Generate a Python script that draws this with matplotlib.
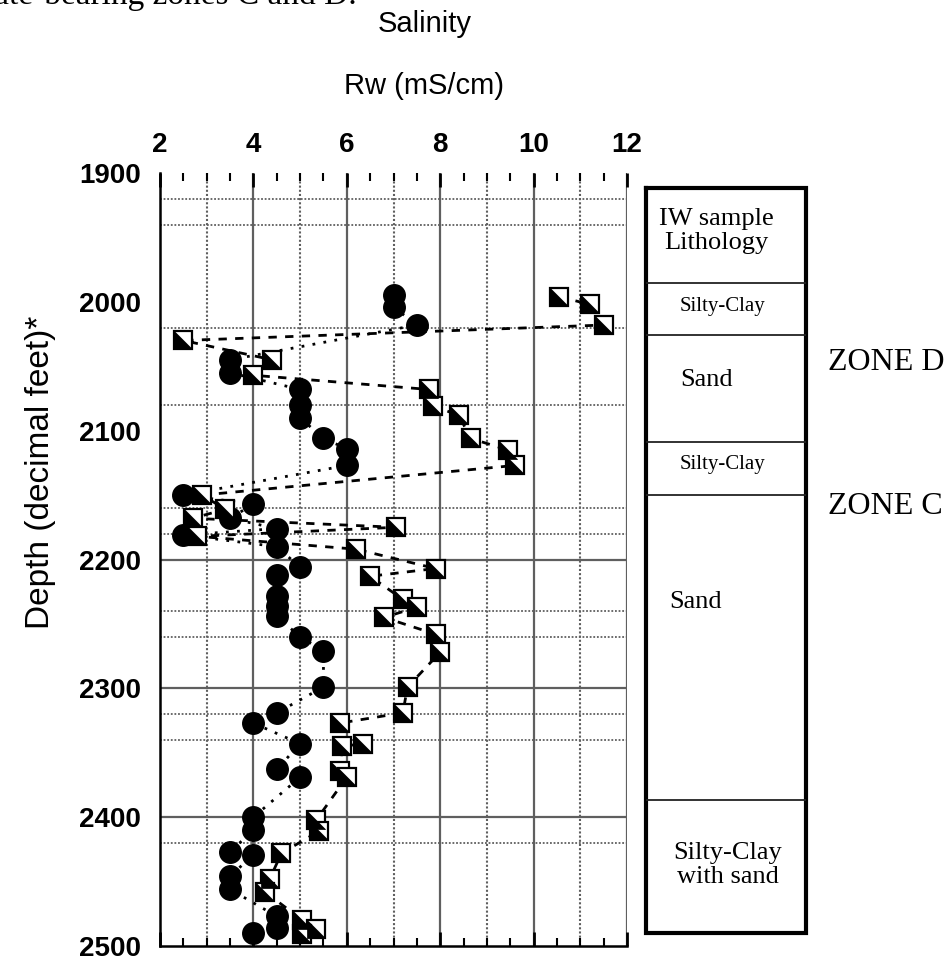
import matplotlib.pyplot as plt
from matplotlib.ticker import MultipleLocator

# circles: salinity Rw (mS/cm) vs depth (decimal feet)
circle_rw = [7.0, 7.0, 7.5, 3.5, 3.5, 5.0, 5.0, 5.0, 5.5, 6.0, 6.0,
             2.5, 4.0, 3.5, 4.5, 2.5, 4.5, 5.0, 4.5, 4.5, 4.5, 4.5,
             5.0, 5.5, 5.5, 4.5, 4.0, 5.0, 4.5, 5.0, 4.0, 4.0, 3.5,
             4.0, 3.5, 3.5, 4.5, 4.5, 4.0]
circle_depth = [1995, 2004, 2018, 2045, 2055, 2068, 2080, 2090, 2106, 2114, 2127,
                2150, 2157, 2168, 2176, 2181, 2190, 2206, 2212, 2228, 2236, 2244,
                2260, 2271, 2299, 2319, 2327, 2343, 2363, 2369, 2400, 2410, 2427,
                2429, 2446, 2456, 2477, 2486, 2490]

# half-filled squares
square_rw = [10.55, 11.2, 11.5, 2.5, 4.4, 4.0, 7.75, 7.85, 8.4, 8.65, 9.45, 9.6,
             2.9, 3.4, 2.7, 7.05, 2.8, 6.2, 7.9, 6.5, 7.2, 7.5, 6.8, 7.9, 8.0,
             7.3, 7.2, 5.85, 6.35, 5.9, 5.85, 6.0, 5.35, 5.4, 4.6, 4.35, 4.25,
             5.05, 5.35, 5.05]
square_depth = [1996, 2002, 2018, 2030, 2045, 2057, 2068, 2081, 2088, 2106, 2115, 2127,
                2150, 2161, 2168, 2175, 2182, 2192, 2207, 2213, 2231, 2237, 2245, 2258, 2272,
                2299, 2319, 2327, 2343, 2345, 2364, 2369, 2402, 2411, 2428, 2448, 2458,
                2480, 2487, 2491]

x_ticks = [2, 4, 6, 8, 10, 12]
y_ticks = [1900, 2000, 2100, 2200, 2300, 2400, 2500]
solid_depths = [2200, 2300, 2400]
dotted_depths = [1920, 1940, 2020, 2080, 2160, 2180, 2240, 2260, 2320, 2340, 2420]
solid_rw = [4, 6, 8, 10, 12]
dotted_rw = [3, 5, 7, 9, 11]

# lithology column
litho_bounds = [1912, 1985, 2026, 2109, 2150, 2387, 2490]
litho_labels = [
    ("IW sample\nLithology", 0.44, 1945, 19),
    ("Silty-Clay", 0.48, 2004, 15),
    ("Sand", 0.38, 2061, 19),
    ("Silty-Clay", 0.48, 2126, 15),
    ("Sand", 0.31, 2233, 19),
    ("Silty-Clay\nwith sand", 0.51, 2437, 19),
]
zones = [("ZONE D", 2047), ("ZONE C", 2159)]

W, H = 947, 959
fig = plt.figure(figsize=(W / 100, H / 100), dpi=100)

ax = fig.add_axes([160 / W, 1 - 946 / H, 467 / W, 773 / H])
ax.set_xlim(2, 12)
ax.set_ylim(2500, 1900)

grid_col = '#5f5f5f'
for x in solid_rw:
    ax.axvline(x, color=grid_col, lw=1.6, zorder=1)
for x in dotted_rw:
    ax.axvline(x, color=grid_col, lw=1.5, ls=(0, (1, 1)), zorder=1)
for d in solid_depths:
    ax.axhline(d, color=grid_col, lw=1.6, zorder=1)
for d in dotted_depths:
    ax.axhline(d, color=grid_col, lw=1.3, ls=(0, (1, 1)), zorder=1)

ax.plot(circle_rw, circle_depth, color='black', lw=2, ls=(0, (1, 3)), zorder=2)
ax.plot(square_rw, square_depth, color='black', lw=2, ls=(0, (3, 3)), zorder=2)
ax.plot(circle_rw, circle_depth, ls='none', marker='o', ms=15.5,
        mfc='black', mec='black', zorder=3)
ax.plot(square_rw, square_depth, ls='none', marker='s', ms=13,
        mfc='white', mec='black', mew=1.6, zorder=4)
tri = [(-1, 1), (-1, -1), (1, -1), (-1, 1)]
ax.plot(square_rw, square_depth, ls='none', marker=tri, ms=13,
        mfc='black', mec='black', mew=0.5, zorder=5)

for s in ['top', 'right']:
    ax.spines[s].set_visible(False)
for s in ['left', 'bottom']:
    ax.spines[s].set_linewidth(1.8)

ax.xaxis.tick_top()
ax.set_xticks(x_ticks)
ax.xaxis.set_minor_locator(MultipleLocator(0.5))
ax.tick_params(axis='x', which='major', direction='in', length=10, width=2,
               top=True, bottom=True, pad=11)
ax.tick_params(axis='x', which='minor', direction='in', length=6, width=1.5,
               top=True, bottom=True)
ax.set_yticks(y_ticks)
ax.set_yticks(solid_depths, minor=True)
ax.tick_params(axis='y', which='major', length=0, pad=14)
ax.tick_params(axis='y', which='minor', direction='in', length=10, width=2)
for lab in ax.get_xticklabels() + ax.get_yticklabels():
    lab.set_fontfamily('Liberation Sans')
    lab.set_fontweight('bold')
    lab.set_fontsize(20)

fig.text(40 / W, 1 - 472 / H, 'Depth (decimal feet)*', rotation=90,
         ha='center', va='center', fontsize=24, family='Liberation Sans')
fig.text(424 / W, 1 - 86 / H, 'Rw (mS/cm)', ha='center', va='center',
         fontsize=21, family='Liberation Sans')
fig.text(425 / W, 1 - 24 / H, 'Salinity', ha='center', va='center',
         fontsize=21, family='Liberation Sans')
fig.text(357 / W, 1 - 4 / H, 'hydrate-bearing zones C and D.', ha='right',
         va='baseline', fontsize=24, family='Liberation Serif')

# lithology column
ax2 = fig.add_axes([646 / W, 1 - 946 / H, 160 / W, 773 / H])
ax2.set_xlim(0, 1)
ax2.set_ylim(2500, 1900)
ax2.axis('off')
top, bot = litho_bounds[0], litho_bounds[-1]
ax2.plot([0, 1, 1, 0, 0], [top, top, bot, bot, top], color='black', lw=3,
         solid_joinstyle='miter', clip_on=False)
for b in litho_bounds[1:-1]:
    ax2.plot([0, 1], [b, b], color='#222222', lw=1.3)
for text, x, y, fs in litho_labels:
    ax2.text(x, y, text, ha='center', va='center', fontsize=fs,
             family='Liberation Serif', linespacing=1.1)
for text, y in zones:
    ax2.text(1.14, y, text, ha='left', va='center', fontsize=23,
             family='Liberation Serif', clip_on=False)

fig.savefig('out.png', dpi=100)
